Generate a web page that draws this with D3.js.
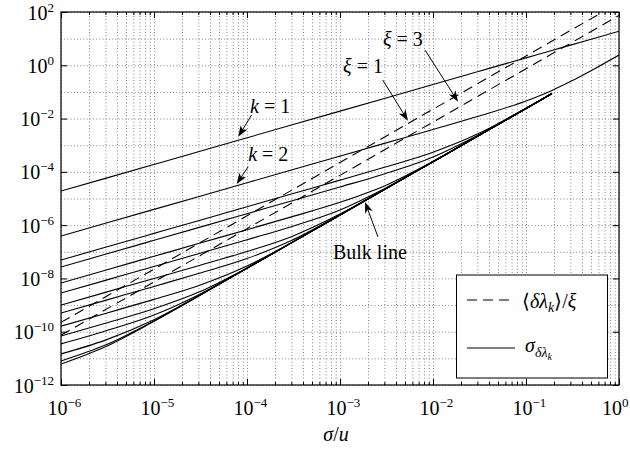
<!DOCTYPE html>
<html>
<head>
<meta charset="utf-8">
<script src="https://cdn.jsdelivr.net/npm/d3@7"></script>
<style>
  body { margin: 0; background: #fff; }
  svg { display: block; }
  text { font-family: "Liberation Serif", "Times New Roman", serif; fill: #000; }
</style>
</head>
<body>
<svg id="chart" width="630" height="450"></svg>
<script>
// ---- data -------------------------------------------------------------
// noise level sigma/u where the curves are sampled
const sigmaU     = [1e-6, 3e-6, 1e-5, 3e-5, 1e-4, 3e-4, 1e-3, 3e-3, 1e-2, 3e-2, 0.1, 0.19];
const sigmaUWide = [1e-6, 3e-6, 1e-5, 3e-5, 1e-4, 3e-4, 1e-3, 3e-3, 1e-2, 3e-2, 0.1, 0.19, 0.3, 0.56, 1];

// standard deviation of the eigenvalue shift, one array per mode k
const sdK1  = [1.9e-5, 5.7e-5, 1.9e-4, 5.7e-4, 1.9e-3, 5.7e-3, 1.9e-2, 5.7e-2, 0.19, 0.57, 1.9, 3.6, 5.7, 10.6, 19];
const sdK2  = [3.9e-7, 1.17e-6, 3.9e-6, 1.17e-5, 3.9e-5, 1.17e-4, 3.9e-4, 1.17e-3, 3.9e-3, 1.19e-2, 4.57e-2, 0.114, 0.245, 0.78, 2.43];
const sdK3  = [4.9e-8, 1.47e-7, 4.9e-7, 1.47e-6, 4.9e-6, 1.47e-5, 4.9e-5, 1.48e-4, 5.45e-4, 2.61e-3, 2.45e-2, 8.7e-2];
const sdK4  = [2.69e-8, 8.07e-8, 2.69e-7, 8.07e-7, 2.69e-6, 8.07e-6, 2.7e-5, 8.35e-5, 3.6e-4, 2.31e-3, 2.41e-2, 8.7e-2];
const sdK5  = [6.76e-9, 2.03e-8, 6.76e-8, 2.03e-7, 6.76e-7, 2.04e-6, 7.18e-6, 2.96e-5, 2.49e-4, 2.17e-3, 2.4e-2, 8.67e-2];
const sdK6  = [2.82e-9, 8.45e-9, 2.82e-8, 8.45e-8, 2.83e-7, 8.73e-7, 3.7e-6, 2.32e-5, 2.42e-4, 2.16e-3, 2.4e-2, 8.67e-2];
const sdK7  = [1e-9, 3e-9, 1e-8, 3.01e-8, 1.03e-7, 3.7e-7, 2.6e-6, 2.18e-5, 2.4e-4, 2.16e-3, 2.4e-2, 8.67e-2];
const sdK8  = [5.0e-10, 1.5e-9, 5.0e-9, 1.52e-8, 5.56e-8, 2.63e-7, 2.45e-6, 2.16e-5, 2.4e-4, 2.16e-3, 2.4e-2, 8.67e-2];
const sdK9  = [1.62e-10, 4.86e-10, 1.64e-9, 5.32e-9, 2.9e-8, 2.21e-7, 2.41e-6, 2.16e-5, 2.4e-4, 2.16e-3, 2.4e-2, 8.67e-2];
const sdK10 = [6.9e-11, 2.09e-10, 7.3e-10, 3.0e-9, 2.49e-8, 2.16e-7, 2.4e-6, 2.16e-5, 2.4e-4, 2.16e-3, 2.4e-2, 8.67e-2];
const sdK11 = [3.48e-11, 1.06e-10, 4.22e-10, 2.39e-9, 2.42e-8, 2.16e-7, 2.4e-6, 2.16e-5, 2.4e-4, 2.16e-3, 2.4e-2, 8.67e-2];
const sdK12 = [1.47e-11, 4.84e-11, 2.8e-10, 2.2e-9, 2.4e-8, 2.16e-7, 2.4e-6, 2.16e-5, 2.4e-4, 2.16e-3, 2.4e-2, 8.67e-2];
const sdBulkA = [7.96e-12, 3.14e-11, 2.52e-10, 2.17e-9, 2.4e-8, 2.16e-7, 2.4e-6, 2.16e-5, 2.4e-4, 2.16e-3, 2.4e-2, 8.67e-2];
const sdBulkB = [6.1e-12, 2.73e-11, 2.47e-10, 2.16e-9, 2.4e-8, 2.16e-7, 2.4e-6, 2.16e-5, 2.4e-4, 2.16e-3, 2.4e-2, 8.67e-2];

// mean eigenvalue shift divided by xi
const sigmaUMean = [1e-6, 1e-4, 1e-2, 1];
const meanXi1 = [2.24e-10, 2.24e-6, 2.24e-2, 224];
const meanXi3 = [7.4e-11, 7.4e-7, 7.4e-3, 74];

// axis ticks (decade exponents)
const xTickExp = [-6, -5, -4, -3, -2, -1, 0];
const yTickExp = [-12, -10, -8, -6, -4, -2, 0, 2];
const yGridExp = d3.range(-12, 3);

// ---- layout -----------------------------------------------------------
const L = 61, R = 619, T = 12, B = 385;
const svg = d3.select("#chart");
const x = d3.scaleLog().domain([1e-6, 1]).range([L, R]);
const y = d3.scaleLog().domain([1e-12, 1e2]).range([B, T]);
const p10 = e => +("1e" + e);

const xMajor = xTickExp.map(p10);
const xMinor = [];
xTickExp.slice(0, -1).forEach(e => { for (let m = 2; m <= 9; m++) xMinor.push(+(m + "e" + e)); });

// ---- dotted grid ------------------------------------------------------
const gridStyle = g => {
  g.select(".domain").remove();
  g.selectAll(".tick line").attr("stroke", "#777").attr("stroke-width", 0.9).attr("stroke-dasharray", "1,2.2");
};
svg.append("g").attr("transform", `translate(0,${B})`)
  .call(d3.axisBottom(x).tickValues(xMajor.concat(xMinor)).tickSize(-(B - T)).tickFormat(""))
  .call(gridStyle);
svg.append("g").attr("transform", `translate(${L},0)`)
  .call(d3.axisLeft(y).tickValues(yGridExp.map(p10)).tickSize(-(R - L)).tickFormat(""))
  .call(gridStyle);

// ---- curves -----------------------------------------------------------
svg.append("defs").append("clipPath").attr("id", "plotClip")
  .append("rect").attr("x", L).attr("y", T).attr("width", R - L).attr("height", B - T);
const plot = svg.append("g").attr("clip-path", "url(#plotClip)");

const line = d3.line().x(d => x(d[0])).y(d => y(d[1])).curve(d3.curveMonotoneX);
const zipXY = (xs, ys) => ys.map((v, i) => [xs[i], v]);

const stdSeries = [
  zipXY(sigmaUWide, sdK1), zipXY(sigmaUWide, sdK2),
  ...[sdK3, sdK4, sdK5, sdK6, sdK7, sdK8, sdK9, sdK10, sdK11, sdK12, sdBulkA, sdBulkB].map(s => zipXY(sigmaU, s))
];
plot.selectAll("path.sd").data(stdSeries).join("path")
  .attr("class", "sd").attr("d", line)
  .attr("fill", "none").attr("stroke", "#000").attr("stroke-width", 1.1);

const meanSeries = [zipXY(sigmaUMean, meanXi1), zipXY(sigmaUMean, meanXi3)];
plot.selectAll("path.mean").data(meanSeries).join("path")
  .attr("class", "mean").attr("d", d3.line().x(d => x(d[0])).y(d => y(d[1])))
  .attr("fill", "none").attr("stroke", "#000").attr("stroke-width", 1.1)
  .attr("stroke-dasharray", "10,6");

// ---- axes box, ticks and labels ---------------------------------------
const tickStyle = g => {
  g.select(".domain").remove();
  g.selectAll(".tick line").attr("stroke", "#000").attr("stroke-width", 1);
};
const supLabel = (sel, exp) => {
  sel.text(null);
  sel.append("tspan").text("10");
  sel.append("tspan").attr("dy", -8).attr("font-size", 13)
    .text(String(exp).replace("-", "\u2212"));
};

// bottom
const gxb = svg.append("g").attr("transform", `translate(0,${B})`)
  .call(d3.axisBottom(x).tickValues(xMajor).tickSize(-6).tickFormat(d => d))
  .call(tickStyle);
gxb.selectAll(".tick text")
  .attr("y", 30).attr("dy", null)
  .attr("font-size", 20)
  .attr("text-anchor", d => d >= 1 ? "end" : "start")
  .attr("x", d => d >= 1 ? 9 : -14)
  .each(function (d) { supLabel(d3.select(this), Math.round(Math.log10(d))); });
svg.append("g").attr("transform", `translate(0,${B})`)
  .call(d3.axisBottom(x).tickValues(xMinor).tickSize(-3).tickFormat(""))
  .call(tickStyle);
// top
svg.append("g").attr("transform", `translate(0,${T})`)
  .call(d3.axisTop(x).tickValues(xMajor).tickSize(-6).tickFormat(""))
  .call(tickStyle);
svg.append("g").attr("transform", `translate(0,${T})`)
  .call(d3.axisTop(x).tickValues(xMinor).tickSize(-3).tickFormat(""))
  .call(tickStyle);
// left
const gyl = svg.append("g").attr("transform", `translate(${L},0)`)
  .call(d3.axisLeft(y).tickValues(yTickExp.map(p10)).tickSize(-6).tickFormat(d => d))
  .call(tickStyle);
gyl.selectAll(".tick text")
  .attr("x", -7).attr("dy", null).attr("y", 7)
  .attr("font-size", 20).attr("text-anchor", "end")
  .each(function (d) { supLabel(d3.select(this), Math.round(Math.log10(d))); });
// right
svg.append("g").attr("transform", `translate(${R},0)`)
  .call(d3.axisRight(y).tickValues(yTickExp.map(p10)).tickSize(-6).tickFormat(""))
  .call(tickStyle);

svg.append("rect").attr("x", L).attr("y", T).attr("width", R - L).attr("height", B - T)
  .attr("fill", "none").attr("stroke", "#000").attr("stroke-width", 1.2);

// x-axis title
const xt = svg.append("text").attr("x", 336).attr("y", 441)
  .attr("font-size", 20).attr("text-anchor", "middle");
xt.append("tspan").attr("font-style", "italic").text("\u03c3");
xt.append("tspan").text("/");
xt.append("tspan").attr("font-style", "italic").text("u");

// ---- annotations ------------------------------------------------------
const notes = [
  { sym: "k", val: "1", tx: 1.08e-4, ty: 1.62e-2, from: [1.12e-4, 1.36e-2], to: [8.05e-5, 2.09e-3] },
  { sym: "k", val: "2", tx: 1.03e-4, ty: 2.55e-4, from: [1.03e-4, 1.56e-4], to: [7.74e-5, 3.5e-5] },
  { sym: "\u03be", val: "1", tx: 1.08e-3, ty: 0.513, from: [2.88e-3, 0.28], to: [5.38e-3, 8.3e-3] },
  { sym: "\u03be", val: "3", tx: 2.9e-3, ty: 5.3, from: [8.2e-3, 3.75], to: [1.86e-2, 4.3e-2] },
  { text: "Bulk line", tx: 8.4e-4, ty: 5.4e-8, from: [2.56e-3, 3.6e-7], to: [1.86e-3, 7.4e-6] }
];

function arrow(g, p0, p1) {
  const [x0, y0] = p0, [x1, y1] = p1;
  const a = Math.atan2(y1 - y0, x1 - x0);
  const len = 11, hw = 4, notch = 3;
  const ux = Math.cos(a), uy = Math.sin(a), nx = -uy, ny = ux;
  const bx = x1 - ux * len, by = y1 - uy * len;
  g.append("line").attr("x1", x0).attr("y1", y0)
    .attr("x2", x1 - ux * 4).attr("y2", y1 - uy * 4)
    .attr("stroke", "#000").attr("stroke-width", 1);
  g.append("path")
    .attr("d", `M${x1},${y1}L${bx + nx * hw},${by + ny * hw}L${x1 - ux * (len - notch)},${y1 - uy * (len - notch)}L${bx - nx * hw},${by - ny * hw}Z`)
    .attr("fill", "#000");
}

const ann = svg.append("g");
notes.forEach(n => {
  const t = ann.append("text").attr("x", x(n.tx)).attr("y", y(n.ty)).attr("font-size", 20);
  if (n.text) {
    t.text(n.text);
  } else {
    t.append("tspan").attr("font-style", "italic").text(n.sym);
    t.append("tspan").text(" = " + n.val);
  }
  arrow(ann, [x(n.from[0]), y(n.from[1])], [x(n.to[0]), y(n.to[1])]);
});

// ---- legend -----------------------------------------------------------
const lg = svg.append("g");
lg.append("rect").attr("x", 456.5).attr("y", 275).attr("width", 151).attr("height", 103)
  .attr("fill", "#fff").attr("stroke", "#000").attr("stroke-width", 1);
lg.append("line").attr("x1", 467).attr("x2", 515).attr("y1", 300).attr("y2", 300)
  .attr("stroke", "#000").attr("stroke-width", 1.1).attr("stroke-dasharray", "10,6");
lg.append("line").attr("x1", 467).attr("x2", 515).attr("y1", 348).attr("y2", 348)
  .attr("stroke", "#000").attr("stroke-width", 1.1);

const t1 = lg.append("text").attr("x", 522).attr("y", 308).attr("font-size", 20);
t1.append("tspan").text("\u27e8");
t1.append("tspan").attr("font-style", "italic").text("\u03b4\u03bb");
t1.append("tspan").attr("font-style", "italic").attr("font-size", 14).attr("dy", 4).text("k");
t1.append("tspan").attr("dy", -4).text("\u27e9/");
t1.append("tspan").attr("font-style", "italic").text("\u03be");

const t2 = lg.append("text").attr("x", 525).attr("y", 352).attr("font-size", 20);
t2.append("tspan").attr("font-style", "italic").text("\u03c3");
t2.append("tspan").attr("font-style", "italic").attr("font-size", 14).attr("dy", 5).text("\u03b4\u03bb");
t2.append("tspan").attr("font-style", "italic").attr("font-size", 10).attr("dy", 3).text("k");
</script>
</body>
</html>
